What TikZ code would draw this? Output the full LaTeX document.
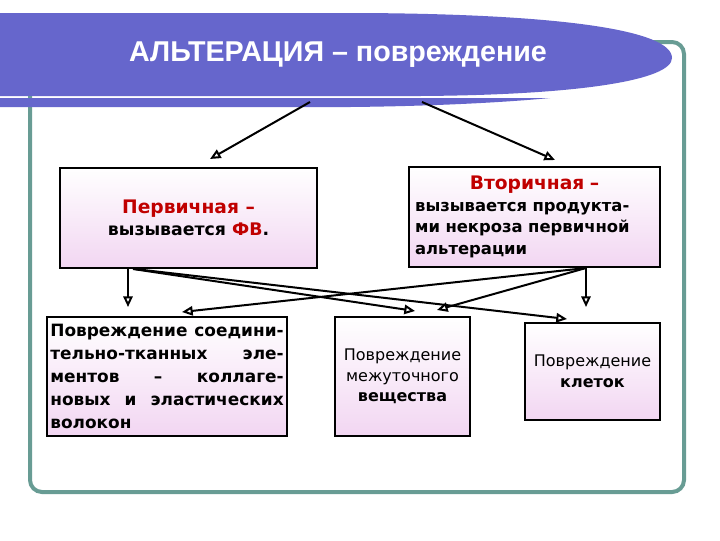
\documentclass[tikz,border=0pt]{standalone}
\usepackage{fontspec}
\setmainfont{DejaVu Sans}
\newfontfamily\titlefont{Liberation Sans}
\usetikzlibrary{arrows.meta,calc}
\definecolor{banner}{RGB}{102,102,204}
\definecolor{frame}{RGB}{104,156,148}
\definecolor{boxpink}{RGB}{242,214,242}
\definecolor{darkred}{RGB}{192,0,0}

\begin{document}
\begin{tikzpicture}[x=0.75pt,y=-0.75pt, box/.style={draw=black,line width=1.5pt,top color=white,bottom color=boxpink,font=\bfseries\fontsize{12.3}{16.2}\selectfont,align=center,inner sep=0pt}, thin box/.style={box,font=\fontsize{12}{15.5}\selectfont}, arr/.style={line width=1.5pt,-{Triangle[open,length=8pt,width=7pt]}}]
\fill[white] (0,0) rectangle (720,540);
\draw[frame,line width=3pt,rounded corners=9pt] (30,42) rectangle (684,492);
\fill[banner] (0,13) -- (360,13) .. controls (560,14) and (672,30) .. (672,58) .. controls (672,80) and (580,95) .. (420,96) -- (0,96) -- cycle;
\fill[banner] (0,98) -- (550,98) .. controls (520,101) and (450,106) .. (350,107) -- (0,107) -- cycle;
\node[font=\titlefont\bfseries\fontsize{21.5}{25}\selectfont,text=white] (title) at (338,55) {АЛЬТЕРАЦИЯ – повреждение};
\coordinate (t1) at (310,102);
\coordinate (t2) at (422,102);
\node[box,minimum width=192.75pt,minimum height=75pt,font=\bfseries\fontsize{14}{16.5}\selectfont] (prim) at (188.5,218) {\textcolor{darkred}{Первичная –}\\\fontsize{13}{16.5}\selectfont вызывается \textcolor{darkred}{ФВ}.};
\node[box,minimum width=188.25pt,minimum height=75pt,text width=179pt,align=left] (sec) at (534.5,217) {\makebox[179pt]{\fontsize{14}{16}\selectfont\textcolor{darkred}{Вторичная –}}\\вызывается продукта-\\ми некроза первичной\\альтерации};
\node[box,minimum width=180pt,minimum height=89.25pt,text width=175pt,align=left,font=\bfseries\fontsize{12.7}{17.3}\selectfont] (conn) at (167,376.5) {\makebox[175pt]{Повреждение\hfill соедини-}\\\makebox[175pt]{тельно-тканных\hfill эле-}\\\makebox[175pt]{ментов\hfill –\hfill коллаге-}\\\makebox[175pt]{новых\hfill и\hfill эластических}\\волокон};
\node[thin box,minimum width=101.25pt,minimum height=89.25pt] (inter) at (402.5,376.5) {Повреждение\\межуточного\\\textbf{вещества}};
\node[thin box,minimum width=101.25pt,minimum height=72.75pt] (cells) at (592.5,371.5) {Повреждение\\\textbf{клеток}};
\draw[arr] (t1) -- ($(prim.north)+(21.5,-8)$);
\draw[arr] (t2) -- ($(sec.north)+(20.5,-6)$);
\draw[arr] ($(prim.south)+(-60.5,0)$) -- ($(conn.north)+(-39,-9)$);
\draw[arr] ($(prim.south)+(-55.5,0)$) -- ($(inter.north)+(12.5,-5)$);
\draw[arr] ($(prim.south)+(-53.5,0)$) -- ($(cells.north)+(-25.5,-3)$);
\draw[arr] ($(sec.south)+(51.5,0)$) -- ($(cells.north)+(-6.5,-15)$);
\draw[arr] ($(sec.south)+(51.5,0)$) -- ($(inter.north)+(34.5,-6)$);
\draw[arr] ($(sec.south)+(51.5,0)$) -- ($(conn.north)+(15,-4)$);
\end{tikzpicture}
\end{document}
